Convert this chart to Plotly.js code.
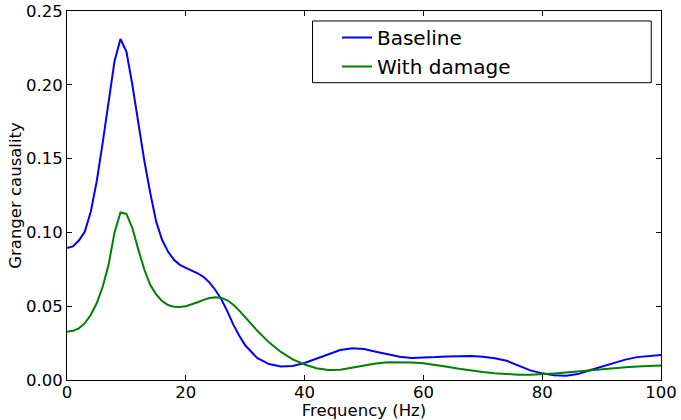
<!DOCTYPE html>
<html>
<head>
<meta charset="utf-8">
<script src="https://cdn.plot.ly/plotly-3.0.1.min.js"></script>
<style>html,body{margin:0;padding:0;background:#fff;}#chart{width:681px;height:420px;}</style>
</head>
<body>
<div id="chart"></div>
<script>
const frequency = [0,1,2,3,4,5,6,7,8,9,10,11,12,13,14,15,16,17,18,19,20,21,22,23,24,25,26,27,28,29,30,
  32,34,36,38,40,42,44,46,48,50,52,54,56,58,60,62,64,66,68,70,72,74,76,78,80,82,84,86,88,90,92,94,96,98,100];

const baseline = [0.0894,0.0905,0.0945,0.1005,0.1140,0.1345,0.1605,0.1900,0.2160,0.2310,0.2225,0.2000,0.1730,0.1490,0.1270,0.1075,0.0950,0.0870,0.0815,0.0780,0.0760,0.0742,0.0722,0.0698,0.0660,0.0608,0.0545,0.0465,0.0375,0.0300,0.0235,
  0.0150,0.0108,0.0092,0.0095,0.0115,0.0145,0.0178,0.0203,0.0215,0.0210,0.0192,0.0172,0.0157,0.0149,0.0150,0.0155,0.0160,0.0162,0.0162,0.0158,0.0148,0.0130,0.0095,0.0065,0.0045,0.0032,0.0029,0.0040,0.0066,0.0090,0.0115,0.0138,0.0155,0.0164,0.0169];

const withDamage = [0.0327,0.0333,0.0350,0.0385,0.0440,0.0520,0.0630,0.0780,0.1000,0.1135,0.1125,0.1030,0.0885,0.0750,0.0645,0.0580,0.0535,0.0508,0.0497,0.0495,0.0500,0.0512,0.0527,0.0543,0.0555,0.0560,0.0556,0.0540,0.0510,0.0470,0.0425,
  0.0335,0.0255,0.0190,0.0140,0.0105,0.0080,0.0067,0.0070,0.0085,0.0100,0.0112,0.0120,0.0122,0.0119,0.0113,0.0103,0.0090,0.0076,0.0064,0.0054,0.0046,0.0040,0.0036,0.0035,0.0038,0.0044,0.0051,0.0059,0.0067,0.0074,0.0080,0.0086,0.0091,0.0095,0.0099];

const seriesNames = ["Baseline", "With damage"];
const xTicks = [0,20,40,60,80,100];
const yTicks = [0.00,0.05,0.10,0.15,0.20,0.25];

const font = {family: "DejaVu Sans, sans-serif", size: 16.5, color: "#000"};

const traces = [
  {x: frequency, y: baseline, name: seriesNames[0], type: "scatter", mode: "lines",
   line: {color: "#0000ff", width: 2}},
  {x: frequency, y: withDamage, name: seriesNames[1], type: "scatter", mode: "lines",
   line: {color: "#008000", width: 2}}
];

const axisCommon = {
  showgrid: false, zeroline: false, showline: true, linecolor: "#000", linewidth: 1,
  mirror: "allticks", ticks: "inside", ticklen: 5, tickcolor: "#000", tickwidth: 1,
  tickfont: font
};

const layout = {
  width: 681, height: 420,
  margin: {l: 67, r: 20, t: 11, b: 40},
  paper_bgcolor: "#fff", plot_bgcolor: "#fff",
  font: font,
  showlegend: true,
  xaxis: Object.assign({}, axisCommon, {
    range: [0, 100], tickvals: xTicks, ticktext: xTicks.map(String),
    ticklabelstandoff: -3,
    title: {text: "Frequency (Hz)", font: font, standoff: 0}
  }),
  yaxis: Object.assign({}, axisCommon, {
    range: [0, 0.25], tickvals: yTicks, ticktext: yTicks.map(v => v.toFixed(2)),
    title: {text: "Granger causality", font: font, standoff: 0}
  }),
  legend: {
    x: 0.4545, y: 0.981, xanchor: "left", yanchor: "top",
    bgcolor: "rgba(0,0,0,0)", borderwidth: 0,
    font: {family: "DejaVu Sans, sans-serif", size: 20, color: "#000"}
  },
  shapes: [
    {type: "rect", xref: "paper", yref: "paper", x0: 0.4133, x1: 0.9836, y0: 0.8057, y1: 0.9729,
     line: {color: "#000", width: 1}, fillcolor: "#fff", layer: "above"}
  ]
};

Plotly.newPlot("chart", traces, layout, {displayModeBar: false, staticPlot: true});
</script>
</body>
</html>
